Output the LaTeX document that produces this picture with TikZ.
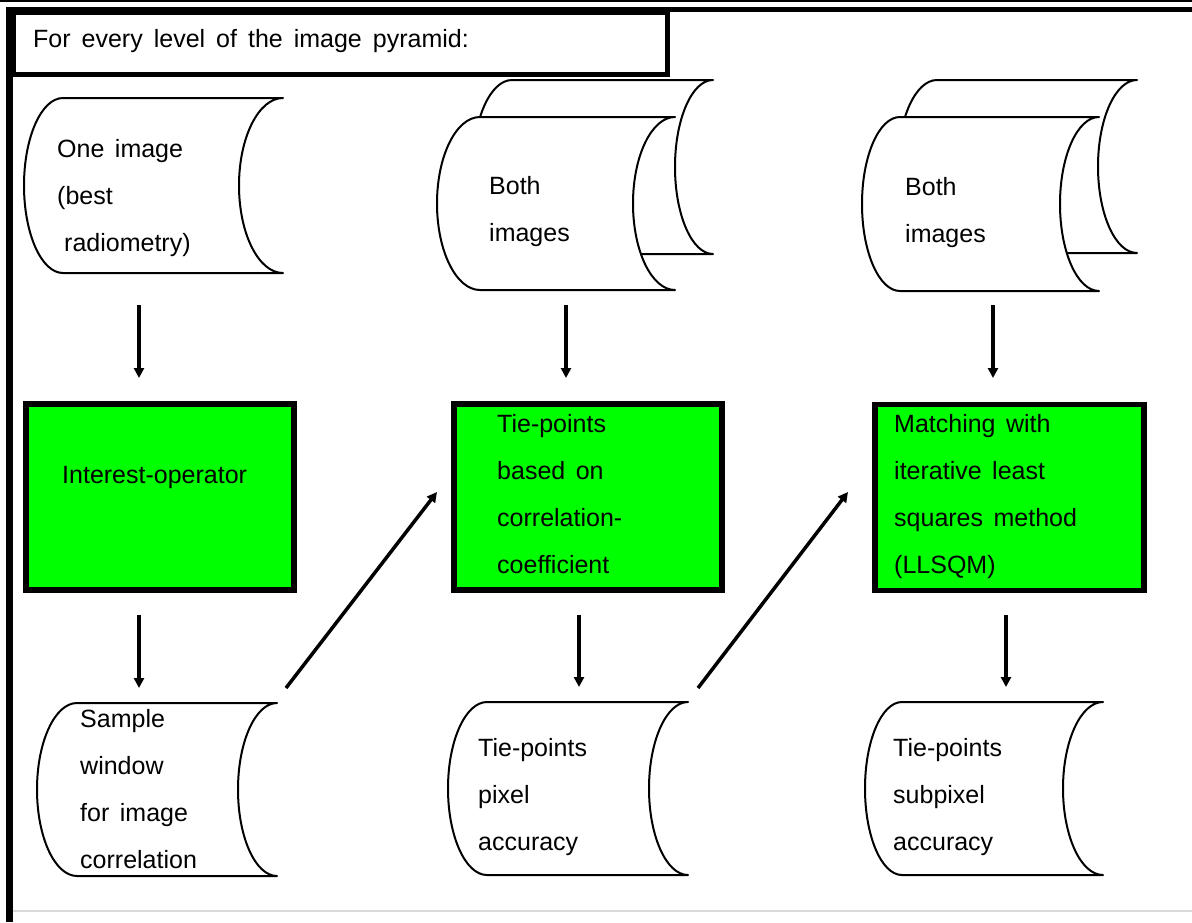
\documentclass[tikz,border=0pt]{standalone}
\usepackage{fontspec}
\setmainfont{Liberation Sans}
\usetikzlibrary{arrows.meta}
\definecolor{boxgreen}{RGB}{0,255,0}
\newcommand\storedshape[6]{%
 \pgfmathsetmacro\sL{#1}\pgfmathsetmacro\sR{#2}\pgfmathsetmacro\sT{#3}\pgfmathsetmacro\sB{#4}%
 \pgfmathsetmacro\sM{(#3+#4)/2}\pgfmathsetmacro\sH{(#4-#3)/2*0.5523}%
 \pgfmathsetmacro\sLa{#1-#5}\pgfmathsetmacro\sLk{#1-#5*0.5523}%
 \pgfmathsetmacro\sRa{#2-#6}\pgfmathsetmacro\sRk{#2-#6*0.5523}%
 \filldraw[shapeline] (\sR,\sT) -- (\sL,\sT) .. controls (\sLk,\sT) and (\sLa,\sM-\sH) .. (\sLa,\sM) .. controls (\sLa,\sM+\sH) and (\sLk,\sB) .. (\sL,\sB) -- (\sR,\sB) .. controls (\sRk,\sB) and (\sRa,\sM+\sH) .. (\sRa,\sM) .. controls (\sRa,\sM-\sH) and (\sRk,\sT) .. (\sR,\sT) -- cycle;%
}
\newcommand\wideface{\fontsize{25}{47}\selectfont\spaceskip=10.5pt plus 1pt\relax}
\newcommand\hdrface{\fontsize{25}{30}\selectfont\spaceskip=11pt plus 1pt\relax}
\tikzset{
 shapeline/.style={draw=black, fill=white, line width=2pt, line join=round},
 gbox/.style={draw=black, fill=boxgreen, line width=5.5pt, inner sep=0pt, minimum width=268pt, minimum height=186pt},
 txt/.style={anchor=north west, inner sep=0pt, align=left, font=\wideface},
 arr/.style={line width=3.5pt, -{Triangle[length=10pt,width=10pt]}},
}
\begin{document}
\begin{tikzpicture}[x=1pt, y=-1pt]
\useasboundingbox (0,0) rectangle (1192,922);
\fill[white] (0,0) rectangle (1192,922);
% frame
\draw[line width=2.5pt] (0,1.2) -- (1192,1.2);
\draw[line width=5pt] (6.5,9.5) -- (1192,9.5);
\draw[line width=6.5pt] (9.5,6.5) -- (9.5,922);
\draw[line width=1.5pt, black!15] (12.5,911) -- (1192,911);
% header
\node[draw, line width=5.5pt, minimum width=654.5pt, minimum height=62pt, anchor=north west, inner sep=0pt] (hdr) at (10,9.5) {};
\node[anchor=base west, inner sep=0pt, font=\hdrface] (hdrtext) at (33,47) {For every level of the image pyramid:};
% top row shapes
\storedshape{63}{283}{98}{273}{39}{44}
\node[txt] (t1) at (57,139) {One image\\(best\\\hspace*{7pt}radiometry)};
\storedshape{512}{713}{80}{254}{39}{38}
\storedshape{480}{675}{117}{290}{43}{42}
\node[txt] (t2) at (489,176) {Both\\images};
\storedshape{937}{1137}{80}{253}{39}{39}
\storedshape{900}{1099}{117}{291}{38}{39}
\node[txt] (t3) at (905,177) {Both\\images};
% green boxes
\node[gbox] (g1) at (160,497) {};
\node[gbox] (g2) at (588,497) {};
\node[gbox, minimum width=269pt] (g3) at (1009.5,497.5) {};
\node[anchor=base west, inner sep=0pt, font=\wideface] (g1t) at (62,483) {Interest-operator};
\node[txt] (g2t) at (497,414) {Tie-points\\based on\\correlation-\\coefficient};
\node[txt] (g3t) at (894,414) {Matching with\\iterative least\\squares method\\(LLSQM)};
% bottom row shapes
\storedshape{77}{277}{703}{876}{40}{39}
\node[txt] (s1t) at (80,709) {Sample\\window\\for image\\correlation};
\storedshape{487}{688}{702}{875}{39}{39}
\node[txt] (s2t) at (478,738) {Tie-points\\pixel\\accuracy};
\storedshape{902}{1103}{702}{875}{37}{40}
\node[txt] (s3t) at (893,738) {Tie-points\\subpixel\\accuracy};
% arrow end points
\coordinate (a1t) at (139,305); \coordinate (a1h) at (139,378);
\coordinate (a2t) at (566,305); \coordinate (a2h) at (566,378);
\coordinate (a3t) at (993,305); \coordinate (a3h) at (993,378);
\coordinate (b1t) at (139,615); \coordinate (b1h) at (139,688);
\coordinate (b2t) at (579,615); \coordinate (b2h) at (579,687);
\coordinate (b3t) at (1006,615); \coordinate (b3h) at (1006,687);
\coordinate (d1t) at (286,688); \coordinate (d1h) at (437,492);
\coordinate (d2t) at (698,688); \coordinate (d2h) at (848,492);
\draw[arr] (a1t) -- (a1h);
\draw[arr] (a2t) -- (a2h);
\draw[arr] (a3t) -- (a3h);
\draw[arr] (b1t) -- (b1h);
\draw[arr] (b2t) -- (b2h);
\draw[arr] (b3t) -- (b3h);
\draw[arr] (d1t) -- (d1h);
\draw[arr] (d2t) -- (d2h);
\end{tikzpicture}
\end{document}
